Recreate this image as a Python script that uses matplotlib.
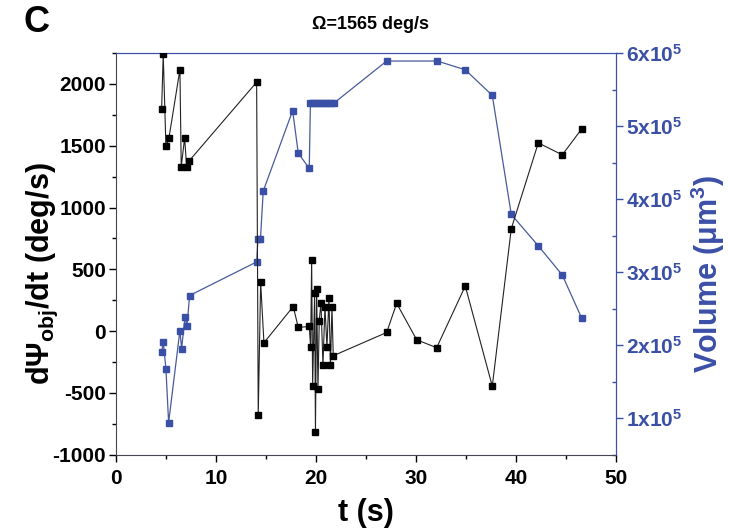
import matplotlib
matplotlib.use("Agg")
import matplotlib.pyplot as plt
from matplotlib.ticker import MultipleLocator

plt.rcParams["font.family"] = ["Liberation Sans", "DejaVu Sans"]
plt.rcParams["font.weight"] = "bold"
plt.rcParams["axes.unicode_minus"] = False
plt.rcParams["mathtext.fontset"] = "custom"
plt.rcParams["mathtext.rm"] = "Liberation Sans:bold"
plt.rcParams["mathtext.bf"] = "Liberation Sans:bold"
plt.rcParams["mathtext.it"] = "Liberation Sans:bold"

# rotation rate of the object (left axis)
t_rate = [4.57, 4.73, 5.0, 5.3, 6.4, 6.53, 6.87, 7.07, 7.33,
          14.07, 14.23, 14.47, 14.8, 17.73, 18.23,
          19.33, 19.47, 19.57, 19.67, 19.87, 19.95, 20.07, 20.2, 20.33, 20.5,
          20.7, 20.9, 21.1, 21.3, 21.45, 21.6, 21.73,
          27.07, 28.07, 30.07, 32.07, 34.93, 37.63, 39.53, 42.23, 44.63, 46.57]
rate = [1794, 2240, 1496, 1561, 2116, 1330, 1563, 1330, 1378,
        2014, -681, 397, -94, 199, 30,
        38, -131, 574, -440, 311, -815, 343, -472, 83, 231,
        -274, 196, -131, 270, -274, 196, -199,
        -11, 225, -70, -134, 365, -445, 829, 1523, 1426, 1636]

# cell volume (right axis)
t_vol = [4.57, 4.73, 5.0, 5.27, 6.4, 6.57, 6.9, 7.1, 7.37,
         14.07, 14.2, 14.45, 14.73, 17.67, 18.23, 19.33,
         19.45, 19.75, 20.05, 20.35, 20.65, 20.95, 21.25, 21.55, 21.85,
         27.07, 32.13, 34.93, 37.63, 39.53, 42.23, 44.63, 46.57]
volume = [1.90e5, 2.045e5, 1.68e5, 0.94e5, 2.20e5, 1.95e5, 2.39e5, 2.26e5, 2.68e5,
          3.14e5, 3.45e5, 3.45e5, 4.11e5, 5.21e5, 4.63e5, 4.42e5,
          5.32e5, 5.32e5, 5.32e5, 5.32e5, 5.32e5, 5.32e5, 5.32e5, 5.32e5, 5.32e5,
          5.89e5, 5.89e5, 5.77e5, 5.42e5, 3.79e5, 3.36e5, 2.96e5, 2.37e5]

vol_ticks = [1e5, 2e5, 3e5, 4e5, 5e5, 6e5]
vol_labels = [f"{int(v / 1e5)}x10$^{{5}}$" for v in vol_ticks]

blue = "#3a4fa6"

fig = plt.figure(figsize=(7.29, 5.30), dpi=100)
ax = fig.add_axes([0.159, 0.142, 0.686, 0.758])
ax2 = ax.twinx()

ax.plot(t_rate, rate, color="#222222", lw=0.8, marker="s", ms=5, mfc="black", mec="black", zorder=3)
ax2.plot(t_vol, volume, color="#4a5a9a", lw=0.9, marker="s", ms=5, mfc=blue, mec=blue)
ax.set_zorder(ax2.get_zorder() + 1)
ax.patch.set_visible(False)

ax.set_xlim(0, 50)
ax.set_ylim(-1000, 2250)
ax2.set_ylim(0.5e5, 6e5)

ax.xaxis.set_major_locator(MultipleLocator(10))
ax.xaxis.set_minor_locator(MultipleLocator(5))
ax.yaxis.set_major_locator(MultipleLocator(500))
ax.yaxis.set_minor_locator(MultipleLocator(250))
ax2.set_yticks(vol_ticks)
ax2.set_yticklabels(vol_labels)
ax2.yaxis.set_minor_locator(MultipleLocator(0.5e5))

ax.tick_params(axis="both", which="major", labelsize=15, length=5, width=1, direction="out", pad=2)
ax.tick_params(axis="x", which="major", pad=5)
ax.tick_params(axis="both", which="minor", length=3, width=1, direction="out")
ax2.tick_params(axis="y", which="major", labelsize=15, length=5, width=1,
                colors=blue, direction="out", pad=2)
ax2.tick_params(axis="y", which="minor", length=3, width=1, colors=blue, direction="in")
for lab in ax.get_xticklabels() + ax.get_yticklabels() + ax2.get_yticklabels():
    lab.set_fontweight("bold")

for s in ["left", "bottom"]:
    ax.spines[s].set_color("#444455")
for s in ["top", "right"]:
    ax.spines[s].set_color(blue)
    ax2.spines[s].set_color(blue)
ax2.spines["left"].set_visible(False)
ax2.spines["bottom"].set_visible(False)

ax.set_xlabel("t (s)", fontsize=22, fontweight="bold")
ax.xaxis.set_label_coords(0.5, -0.108)
ax.set_ylabel("dΨ$_{obj}$/dt (deg/s)", fontsize=22, fontweight="bold")
ax.yaxis.set_label_coords(-0.112, 0.45)
ax2.set_ylabel("Volume (μm$^{3}$)", fontsize=22, fontweight="bold", color=blue)
ax2.yaxis.set_label_coords(1.146, 0.45)

fig.text(0.508, 0.953, "Ω=1565 deg/s", ha="center", va="center", fontsize=13, fontweight="bold")
fig.text(0.05, 0.958, "C", ha="center", va="center", fontsize=26, fontweight="bold")

fig.savefig("out.png", dpi=100)
